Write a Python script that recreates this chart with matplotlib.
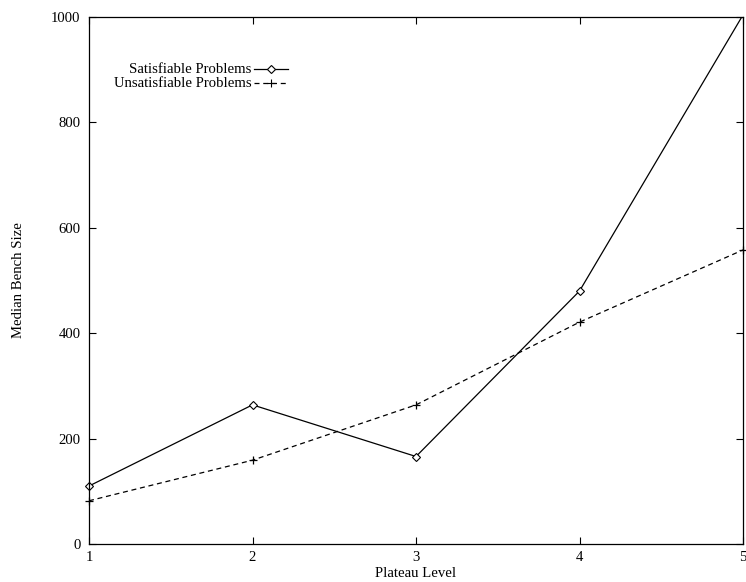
import numpy as np
import matplotlib
matplotlib.use('Agg')
import matplotlib.pyplot as plt
from matplotlib.lines import Line2D

# plateau level vs median bench size
levels = [1, 2, 3, 4, 5]
sat_sizes = [110, 264, 166, 480, 1004]
unsat_sizes = [82, 159, 264, 421, 558]
sat_label = 'Satisfiable Problems'
unsat_label = 'Unsatisfiable Problems'

plt.rcParams['font.family'] = ['Liberation Serif', 'DejaVu Serif']
plt.rcParams['font.size'] = 10.6

fig = plt.figure(figsize=(7.46, 5.82), dpi=100)
ax = fig.add_axes([0.1193, 0.0653, 0.8767, 0.9055])

ax.set_xlim(1, 5)
ax.set_ylim(0, 1000)

dash = (0, (4, 3))
# lines are clipped to the frame, points outside the range are not drawn (gnuplot style)
ax.plot(levels, sat_sizes, color='black', linewidth=0.9)
ax.plot(levels, unsat_sizes, color='black', linewidth=0.9, linestyle=dash)
sat_in = [(x, y) for x, y in zip(levels, sat_sizes) if y <= 1000]
unsat_in = [(x, y) for x, y in zip(levels, unsat_sizes) if y <= 1000]
ax.plot([p[0] for p in sat_in], [p[1] for p in sat_in], linestyle='none', color='black',
        marker='D', markersize=4.4, markerfacecolor='white', markeredgewidth=0.8, clip_on=False)
ax.plot([p[0] for p in unsat_in], [p[1] for p in unsat_in], linestyle='none', color='black',
        marker='+', markersize=6, markeredgewidth=0.9, clip_on=False)

ax.set_xticks([1, 2, 3, 4, 5])
ax.set_yticks([0, 200, 400, 600, 800, 1000])
ax.tick_params(direction='in', length=5, width=0.8, labelsize=10.6,
               top=True, right=True)
ax.tick_params(axis='y', pad=6)
ax.tick_params(axis='x', pad=5)
for s in ax.spines.values():
    s.set_linewidth(0.9)

ax.set_xlabel('Plateau Level', labelpad=2.5)
ax.set_ylabel('Median Bench Size', labelpad=18.5)

# gnuplot-style key, text right aligned, sample on the right
key = [(sat_label, '-', 'D', 'white', 4.4), (unsat_label, dash, '+', 'black', 6)]
for i, (lab, ls, mk, mfc, ms) in enumerate(key):
    y = 0.901 - i * 0.0266
    ax.text(0.249, y, lab, transform=ax.transAxes, ha='right', va='center')
    ax.add_line(Line2D([0.252, 0.305], [y, y], transform=ax.transAxes, color='black',
                       linewidth=0.9, linestyle=ls))
    ax.add_line(Line2D([0.278], [y], transform=ax.transAxes, color='black', marker=mk,
                       markersize=ms, markerfacecolor=mfc, markeredgewidth=0.8))

fig.savefig('out.png', dpi=100)
